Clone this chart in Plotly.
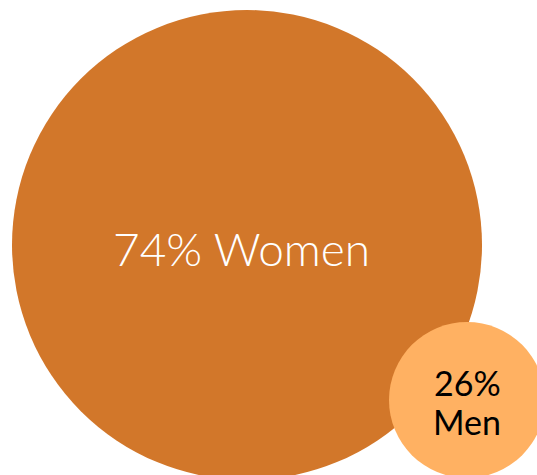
import plotly.graph_objects as go

# Share of respondents by gender
labels = ["74% Women", "26%<br>Men"]
shares = [74, 26]
colors = ["#D2772A", "#FFB162"]

# Circle geometry in canvas units (x right, y down)
centers_x = [247, 467]
centers_y = [245, 400]
radii = [235, 78]

W, H = 537, 475

fig = go.Figure()

# invisible trace so the axes exist
fig.add_trace(go.Scatter(x=[0, W], y=[0, H], mode="markers",
                         marker=dict(opacity=0), hoverinfo="skip", showlegend=False))

for cx, cy, r, c in zip(centers_x, centers_y, radii, colors):
    fig.add_shape(type="circle", xref="x", yref="y",
                  x0=cx - r, x1=cx + r, y0=cy - r, y1=cy + r,
                  fillcolor=c, line=dict(width=0), layer="below")

fig.add_annotation(x=centers_x[0] - 6, y=centers_y[0] + 3, text=labels[0], showarrow=False,
                   xref="x", yref="y",
                   font=dict(family="Lato", size=46, color="white", weight=300))

small_lines = labels[1].split("<br>")
fig.add_annotation(x=centers_x[1], y=382, text=small_lines[0], showarrow=False,
                   xref="x", yref="y",
                   font=dict(family="Lato", size=34, color="black"))
fig.add_annotation(x=centers_x[1], y=421, text=small_lines[1], showarrow=False,
                   xref="x", yref="y",
                   font=dict(family="Lato", size=34, color="black"))

fig.update_layout(
    width=W, height=H,
    margin=dict(l=0, r=0, t=0, b=0),
    paper_bgcolor="white", plot_bgcolor="white",
    xaxis=dict(range=[0, W], visible=False, fixedrange=True),
    yaxis=dict(range=[H, 0], visible=False, fixedrange=True),
    showlegend=False,
)

fig.write_html("out.html")
